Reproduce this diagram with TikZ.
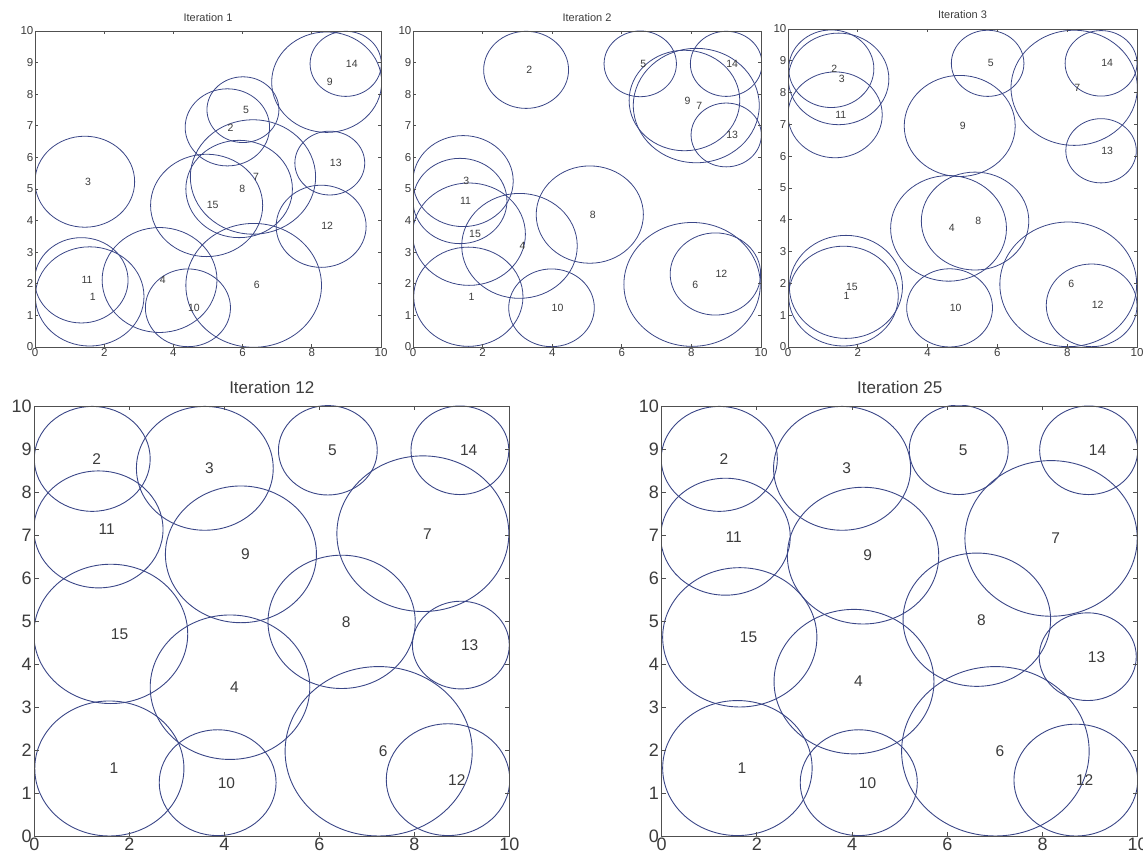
\documentclass[tikz,border=0pt]{standalone}
\usepackage{fontspec}
\setmainfont{Liberation Sans}
\definecolor{circcol}{RGB}{58,70,135}
\definecolor{axcol}{RGB}{80,80,80}
\definecolor{txtcol}{RGB}{60,60,60}
\tikzset{
  circ/.style={draw=circcol},
  ax/.style={draw=axcol, line width=0.9pt},
  topplot/.style={
    lab/.style={anchor=west, inner sep=0pt, text=txtcol, font=\fontsize{10.5}{11}\selectfont},
    xtick/.style={anchor=north, inner sep=1pt, text=txtcol, font=\fontsize{11.5}{12}\selectfont},
    ytick/.style={anchor=east, inner sep=1.5pt, text=txtcol, font=\fontsize{11.5}{12}\selectfont},
    ttl/.style={text=txtcol, inner sep=0pt, font=\fontsize{11}{11}\selectfont},
    circ/.append style={line width=0.8pt}},
  botplot/.style={
    lab/.style={anchor=west, inner sep=0pt, text=txtcol, font=\fontsize{15.5}{16}\selectfont},
    xtick/.style={anchor=north, inner sep=1.5pt, text=txtcol, font=\fontsize{18}{18}\selectfont},
    ytick/.style={anchor=east, inner sep=2.5pt, text=txtcol, font=\fontsize{18}{18}\selectfont},
    ttl/.style={text=txtcol, inner sep=0pt, font=\fontsize{17}{17}\selectfont},
    circ/.append style={line width=0.9pt}}
}
\newcommand{\plotpanel}[7]{%
  \begin{scope}[shift={(#1,#2)}, x=#3pt, y=#4pt, #5]
    \begin{scope}
      \clip (0,0) rectangle (10,10);
      \foreach \cx/\cy/\r/\l in {#7} {\draw[circ] (\cx,\cy) circle [radius=\r];}
    \end{scope}
    \foreach \cx/\cy/\r/\l in {#7} {\node[lab] at (\cx,\cy) {\l};}
    \foreach \x in {0,2,...,10} {
      \draw[ax] (\x,0) -- (\x,0.1);
      \draw[ax] (\x,10) -- (\x,9.9);
      \node[xtick] at (\x,0) {\x};}
    \foreach \y in {0,...,10} {
      \draw[ax] (0,\y) -- (0.1,\y);
      \draw[ax] (10,\y) -- (9.9,\y);
      \node[ytick] at (0,\y) {\y};}
    \draw[ax] (0,0) rectangle (10,10);
    \node[ttl] at (5,10.44) {#6};
  \end{scope}}
\begin{document}
\begin{tikzpicture}[x=1pt,y=1pt]
\useasboundingbox (0,0) rectangle (1143,858);
\plotpanel{35}{511}{34.6}{31.6}{topplot}{Iteration 1}{
1.58/1.60/1.57/1, 5.56/6.95/1.22/2, 1.44/5.23/1.44/3, 3.60/2.12/1.66/4,
6.01/7.51/1.04/5, 6.32/1.95/1.96/6, 6.30/5.38/1.81/7, 5.90/5.00/1.54/8,
8.43/8.38/1.59/9, 4.42/1.24/1.23/10, 1.34/2.11/1.35/11, 8.27/3.82/1.30/12,
8.52/5.82/1.01/13, 8.98/8.96/1.03/14, 4.96/4.48/1.62/15}
\plotpanel{413}{511}{34.8}{31.6}{topplot}{Iteration 2}{
1.59/1.59/1.57/1, 3.25/8.77/1.22/2, 1.44/5.25/1.44/3, 3.06/3.20/1.66/4,
6.53/8.96/1.04/5, 8.02/1.98/1.96/6, 8.14/7.64/1.81/7, 5.08/4.19/1.54/8,
7.80/7.80/1.59/9, 3.98/1.24/1.23/10, 1.35/4.62/1.35/11, 8.69/2.31/1.30/12,
9.00/6.71/1.01/13, 9.00/8.96/1.03/14, 1.61/3.57/1.62/15}
\plotpanel{788}{511}{34.9}{31.8}{topplot}{Iteration 3}{
1.59/1.60/1.57/1, 1.24/8.75/1.22/2, 1.45/8.43/1.44/3, 4.60/3.73/1.66/4,
5.72/8.92/1.04/5, 8.03/1.97/1.96/6, 8.20/8.15/1.81/7, 5.36/3.96/1.54/8,
4.92/6.95/1.59/9, 4.63/1.23/1.23/10, 1.35/7.30/1.35/11, 8.70/1.31/1.30/12,
8.97/6.17/1.01/13, 8.97/8.92/1.03/14, 1.66/1.89/1.62/15}
\plotpanel{34.3}{22}{47.5}{43}{botplot}{Iteration 12}{
1.58/1.57/1.57/1, 1.22/8.77/1.22/2, 3.59/8.55/1.44/3, 4.12/3.46/1.68/4,
6.18/8.97/1.04/5, 7.25/1.97/1.97/6, 8.18/7.03/1.81/7, 6.47/4.98/1.55/8,
4.35/6.55/1.59/9, 3.86/1.24/1.23/10, 1.35/7.13/1.36/11, 8.71/1.31/1.30/12,
8.98/4.44/1.02/13, 8.96/8.97/1.03/14, 1.61/4.70/1.62/15}
\plotpanel{661.7}{22}{47.6}{43}{botplot}{Iteration 25}{
1.59/1.58/1.57/1, 1.21/8.77/1.22/2, 3.79/8.55/1.44/3, 4.04/3.59/1.68/4,
6.24/8.98/1.04/5, 7.01/1.97/1.97/6, 8.18/6.92/1.81/7, 6.62/5.03/1.55/8,
4.23/6.52/1.59/9, 4.14/1.24/1.23/10, 1.34/6.96/1.36/11, 8.70/1.30/1.30/12,
8.95/4.17/1.02/13, 8.97/8.97/1.03/14, 1.64/4.62/1.62/15}
\end{tikzpicture}
\end{document}
